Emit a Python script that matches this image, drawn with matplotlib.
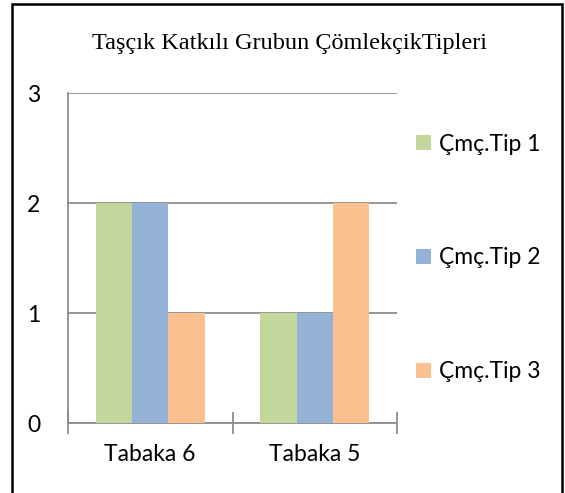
import matplotlib
matplotlib.use("Agg")
import matplotlib.pyplot as plt
import numpy as np
from matplotlib.patches import Rectangle, Patch

categories = ["Tabaka 6", "Tabaka 5"]
series_names = ["Çmç.Tip 1", "Çmç.Tip 2", "Çmç.Tip 3"]
tip1 = [2, 1]
tip2 = [2, 1]
tip3 = [1, 2]
colors = ["#C3D69B", "#95B3D7", "#FAC090"]
title = "Taşçık Katkılı Grubun ÇömlekçikTipleri"

W, H = 565, 493
fig = plt.figure(figsize=(W / 100, H / 100), dpi=100)
ax = fig.add_axes([68 / W, 1 - 423 / H, (397 - 68) / W, (423 - 93) / H])

x = np.arange(len(categories))
bw = 0.22
for i, (vals, c) in enumerate(zip([tip1, tip2, tip3], colors)):
    ax.bar(x + (i - 1) * bw, vals, width=bw, color=c, edgecolor="none", zorder=3)

ax.set_xlim(-0.5, 1.5)
ax.set_ylim(0, 3)
ax.set_yticks([0, 1, 2, 3])
ax.yaxis.grid(True, color="#8C8C8C", linewidth=1.3, zorder=1)
ax.set_axisbelow(True)

for s in ["top", "right"]:
    ax.spines[s].set_visible(False)
for s in ["left", "bottom"]:
    ax.spines[s].set_color("#8C8C8C")
    ax.spines[s].set_linewidth(1.3)

# category boundary ticks on the x axis
ax.set_xticks([-0.5, 0.5, 1.5])
ax.set_xticklabels([])
ax.tick_params(axis="x", direction="inout", length=16, width=1.3, color="#8C8C8C")
ax.set_xticks(x, minor=True)
ax.set_xticklabels(categories, minor=True, fontsize=16.5, family="Lato")
ax.tick_params(axis="x", which="minor", length=0, pad=15)
ax.tick_params(axis="y", length=0, pad=20, labelsize=16.5)
for lbl in ax.get_yticklabels():
    lbl.set_family("Lato")

fig.text(290 / W, 1 - 43 / H, title, ha="center", va="center",
         fontsize=17.5, family="Liberation Serif")

handles = [Patch(facecolor=c, edgecolor="none") for c in colors]
fig.legend(handles, series_names, loc="center left",
           bbox_to_anchor=(395 / W, 1 - 258 / H), frameon=False,
           prop={"family": "Lato", "size": 16.5}, handlelength=0.65,
           handleheight=0.65, handletextpad=0.35, labelspacing=4.05)

fig.patches.append(Rectangle((12 / W, -0.1), (562 - 12) / W, 1.1 - 4 / H,
                             transform=fig.transFigure, fill=False,
                             edgecolor="black", linewidth=1.8))

fig.savefig("out.png", dpi=100)
